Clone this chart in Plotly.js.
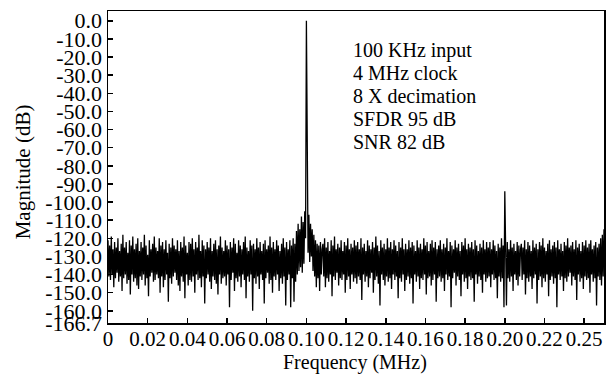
<!DOCTYPE html>
<html>
<head>
<meta charset="utf-8">
<script src="https://cdn.plot.ly/plotly-3.0.1.min.js"></script>
<style>
  html, body { margin: 0; padding: 0; background: #ffffff; }
  #chart { width: 606px; height: 376px; }
</style>
</head>
<body>
<div id="chart"></div>
<script>
// Spectrum: 601 bins from 0 to 0.25 MHz
const freqStartMHz = 0;
const freqStepMHz = 0.25 / 600;

// bins 0-99 (0 - 0.041 MHz)
const magBand1 = [
  -121,-141,-124,-143,-119,-140,-126,-147,-122,-142,-125,-139,-120,-144,-127,-141,-123,-149,-118,-142,
  -125,-140,-122,-145,-128,-143,-121,-151,-124,-140,-119,-144,-126,-142,-123,-146,-120,-148,-127,-141,
  -122,-143,-125,-140,-118,-146,-124,-142,-129,-152,-121,-141,-126,-139,-123,-144,-119,-143,-125,-140,
  -127,-142,-120,-150,-124,-141,-122,-147,-126,-143,-121,-140,-128,-155,-123,-142,-125,-145,-120,-141,
  -124,-139,-126,-143,-121,-146,-127,-149,-122,-141,-125,-144,-119,-153,-124,-140,-128,-146,-122,-143
];
// bins 100-199 (0.042 - 0.083 MHz)
const magBand2 = [
  -123,-144,-120,-141,-126,-150,-122,-140,-125,-143,-118,-142,-127,-147,-121,-141,-124,-156,-126,-142,
  -122,-140,-125,-144,-120,-148,-127,-141,-123,-143,-121,-145,-126,-151,-124,-140,-119,-145,-125,-142,
  -127,-141,-121,-146,-124,-140,-126,-158,-122,-143,-125,-139,-120,-149,-123,-142,-128,-144,-121,-141,
  -124,-147,-126,-140,-122,-143,-119,-153,-125,-141,-127,-144,-121,-140,-124,-160,-123,-142,-126,-145,
  -120,-141,-125,-148,-122,-140,-127,-143,-123,-156,-121,-142,-126,-139,-124,-145,-119,-143,-125,-150
];
// bins 200-299 (0.083 - 0.125 MHz), carrier at 0.100 MHz
const magBand3 = [
  -122,-141,-126,-143,-121,-140,-124,-149,-127,-142,-123,-145,-120,-141,-125,-157,-122,-143,-126,-140,
  -121,-158,-124,-142,-120,-155,-123,-144,-116,-140,-112,-138,-115,-136,-108,-139,-111,-134,-105,-120,
  0,-104,-128,-107,-133,-112,-130,-115,-138,-118,-141,-121,-147,-123,-142,-124,-149,-122,-140,-126,
  -123,-141,-120,-147,-125,-142,-122,-144,-127,-140,-121,-152,-124,-141,-119,-143,-126,-139,-123,-146,
  -125,-142,-121,-143,-127,-140,-122,-150,-124,-143,-120,-141,-126,-148,-123,-140,-125,-144,-121,-142
];
// bins 300-399 (0.125 - 0.166 MHz)
const magBand4 = [
  -124,-145,-122,-141,-126,-143,-120,-154,-125,-140,-123,-144,-127,-141,-121,-147,-124,-142,-126,-139,
  -122,-150,-125,-143,-119,-141,-124,-145,-127,-157,-121,-140,-125,-143,-123,-146,-126,-141,-120,-144,
  -125,-142,-122,-148,-126,-140,-121,-143,-124,-141,-127,-153,-122,-142,-125,-144,-120,-140,-126,-149,
  -123,-143,-126,-141,-121,-145,-125,-142,-122,-156,-124,-140,-127,-144,-121,-141,-125,-148,-123,-142,
  -126,-143,-120,-140,-124,-151,-122,-142,-127,-141,-123,-146,-121,-143,-125,-140,-122,-155,-126,-142
];
// bins 400-499 (0.167 - 0.208 MHz), harmonic spur at 0.200 MHz
const magBand5 = [
  -124,-141,-121,-144,-126,-142,-123,-149,-125,-140,-120,-143,-127,-141,-122,-158,-124,-142,-126,-139,
  -121,-146,-125,-141,-123,-143,-127,-152,-122,-140,-124,-144,-120,-142,-126,-148,-123,-141,-125,-143,
  -122,-142,-126,-155,-121,-140,-124,-145,-127,-141,-123,-143,-125,-150,-121,-140,-126,-144,-122,-142,
  -125,-141,-122,-147,-126,-140,-121,-143,-124,-142,-127,-153,-123,-141,-125,-144,-120,-142,-124,-158,
  -94,-125,-157,-122,-142,-126,-144,-121,-141,-125,-149,-123,-140,-127,-143,-122,-146,-124,-141,-126
];
// bins 500-600 (0.208 - 0.250 MHz)
const magBand6 = [
  -123,-143,-125,-140,-121,-151,-126,-142,-122,-144,-124,-141,-127,-148,-121,-142,-125,-140,-123,-156,
  -126,-143,-122,-141,-124,-147,-120,-142,-125,-144,-127,-140,-123,-152,-121,-143,-126,-141,-124,-145,
  -122,-142,-125,-158,-121,-140,-126,-143,-123,-141,-127,-149,-122,-142,-124,-144,-120,-141,-125,-139,
  -124,-146,-122,-141,-126,-143,-121,-154,-125,-140,-123,-144,-127,-142,-122,-148,-124,-141,-121,-143,
  -125,-142,-123,-150,-121,-140,-126,-144,-124,-142,-122,-157,-125,-141,-123,-143,-120,-146,-118,-141,
  -115
];

const xTickVals = [0, 0.02, 0.04, 0.06, 0.08, 0.10, 0.12, 0.14, 0.16, 0.18, 0.20, 0.22, 0.24];
const xTickText = ['0', '0.02', '0.04', '0.06', '0.08', '0.10', '0.12', '0.14', '0.16', '0.18', '0.20', '0.22', '0.25'];
const yTickVals = [0, -10, -20, -30, -40, -50, -60, -70, -80, -90, -100, -110, -120, -130, -140, -150, -160, -166.7];
const yTickText = ['0.0', '-10.0', '-20.0', '-30.0', '-40.0', '-50.0', '-60.0', '-70.0', '-80.0', '-90.0',
  '-100.0', '-110.0', '-120.0', '-130.0', '-140.0', '-150.0', '-160.0', '-166.7'];

const xTitle = 'Frequency (MHz)';
const yTitle = 'Magnitude (dB)';
const infoLines = ['100 KHz input', '4 MHz clock', '8 X decimation', 'SFDR 95 dB', 'SNR 82 dB'];

const magnitudeDb = [].concat(magBand1, magBand2, magBand3, magBand4, magBand5, magBand6);

const serif = "'Liberation Serif', 'Times New Roman', serif";

const trace = {
  type: 'scatter',
  mode: 'lines',
  x0: freqStartMHz,
  dx: freqStepMHz,
  y: magnitudeDb,
  line: { color: '#000000', width: 1.3 },
  hoverinfo: 'skip',
  showlegend: false
};

const lineY = [0.874, 0.800, 0.727, 0.653, 0.580];
const annotations = infoLines.map((t, i) => ({
  xref: 'paper', yref: 'paper',
  x: 0.49, y: lineY[i],
  xanchor: 'left', yanchor: 'middle',
  text: t, showarrow: false,
  font: { family: serif, size: 20, color: '#000000' }
}));
// axis titles placed as annotations to match the reference positions
annotations.push({
  xref: 'paper', yref: 'paper', x: 0.498, y: -0.125,
  xanchor: 'center', yanchor: 'middle',
  text: xTitle, showarrow: false,
  font: { family: serif, size: 20, color: '#000000' }
});
annotations.push({
  xref: 'paper', yref: 'paper', x: -0.171, y: 0.4835,
  xanchor: 'center', yanchor: 'middle', textangle: -90,
  text: yTitle, showarrow: false,
  font: { family: serif, size: 21, color: '#000000' }
});

const layout = {
  width: 606, height: 376,
  margin: { l: 108, r: 2, t: 11, b: 53 },
  paper_bgcolor: '#ffffff',
  plot_bgcolor: '#ffffff',
  showlegend: false,
  xaxis: {
    range: [0, 0.25],
    tickmode: 'array', tickvals: xTickVals, ticktext: xTickText,
    tickangle: 0,
    ticks: 'inside', ticklen: 5, tickwidth: 1.5, tickcolor: '#000000',
    ticklabelstandoff: -4,
    showline: true, linecolor: '#000000', linewidth: 1.5, mirror: true,
    showgrid: false, zeroline: false,
    tickfont: { family: serif, size: 21, color: '#000000' }
  },
  yaxis: {
    range: [-166.7, 5.4],
    tickmode: 'array', tickvals: yTickVals, ticktext: yTickText,
    ticks: 'inside', ticklen: 5, tickwidth: 1.5, tickcolor: '#000000',
    showline: true, linecolor: '#000000', linewidth: 1.5, mirror: true,
    showgrid: false, zeroline: false,
    tickfont: { family: serif, size: 22, color: '#000000' }
  },
  annotations: annotations
};

Plotly.newPlot('chart', [trace], layout, { staticPlot: true, displayModeBar: false });
</script>
</body>
</html>
